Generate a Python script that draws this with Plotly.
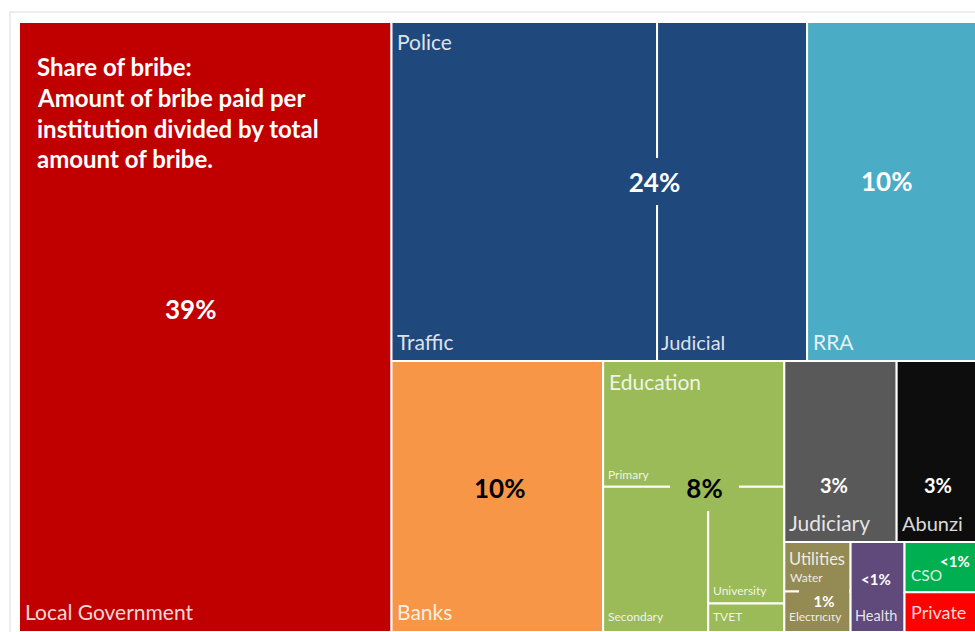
import plotly.graph_objects as go

# ---------------------------------------------------------------------------
# Share of bribe (% of the total amount of bribe paid), by institution
# ---------------------------------------------------------------------------
single_names = ["Local Government", "RRA", "Banks", "Judiciary", "Abunzi",
                "Health", "CSO", "Private"]
single_share = [38.87, 9.91, 9.81, 3.48, 2.52, 0.83, 0.63, 0.50]

police_units = ["Traffic", "Judicial"]
police_share = [15.4, 8.7]

education_units = ["Primary", "Secondary", "University", "TVET"]
education_share = [3.90, 2.61, 1.52, 0.37]

utility_units = ["Water", "Electricity"]
utility_share = [0.56, 0.46]

note_lines = ["Share of bribe:", "Amount of bribe paid per",
              "institution divided by total", "amount of bribe."]

groups = {
    "Police": (police_units, police_share),
    "Education": (education_units, education_share),
    "Utilities": (utility_units, utility_share),
}

palette = {
    "Local Government": "#C00000", "Police": "#1F497D", "RRA": "#4BACC6",
    "Banks": "#F79646", "Education": "#9BBB59", "Judiciary": "#595959",
    "Abunzi": "#0D0D0D", "Utilities": "#948A54", "Health": "#604A7B",
    "CSO": "#00B050", "Private": "#FF0000",
}

FONT = "Lato"
NAME_COLOR = "rgba(255,255,255,0.86)"

# tree-map canvas, in pixel-sized axis units
MAP_W, MAP_H = 959, 610
VIEW_W = 956
SQUARIFY_RATIO = 1.15


def squarify(items, x0, y0, x1, y1, ratio=SQUARIFY_RATIO):
    """Squarified tiling (same row rule as d3.treemapSquarify)."""
    out = {}
    value = sum(v for _, v in items)
    i0, n = 0, len(items)
    while i0 < n:
        dx, dy = x1 - x0, y1 - y0
        i1 = i0
        s = items[i1][1]
        i1 += 1
        mn = mx = s
        alpha = max(dy / dx, dx / dy) / (value * ratio)
        beta = s * s * alpha
        best = max(mx / beta, beta / mn)
        while i1 < n:
            nv = items[i1][1]
            s += nv
            mn, mx = min(mn, nv), max(mx, nv)
            beta = s * s * alpha
            worst = max(mx / beta, beta / mn)
            if worst > best:
                s -= nv
                break
            best = worst
            i1 += 1
        row = items[i0:i1]
        if dx < dy:
            ny = y1 if i1 >= n else y0 + dy * s / value
            cx = x0
            for k, v in row:
                w = dx * v / s
                out[k] = (cx, y0, cx + w, ny)
                cx += w
            y0 = ny
        else:
            nx = x1 if i1 >= n else x0 + dx * s / value
            cy = y0
            for k, v in row:
                h = dy * v / s
                out[k] = (x0, cy, nx, cy + h)
                cy += h
            x0 = nx
        value -= s
        i0 = i1
    return out


top = list(zip(single_names, single_share))
top += [(g, sum(vals)) for g, (_, vals) in groups.items()]
top.sort(key=lambda t: -t[1])
share_of = dict(top)
boxes = squarify(top, 0, 0, MAP_W, MAP_H)

leaves = []  # (label, institution, value, box)
for name, val in top:
    if name in groups:
        units, vals = groups[name]
        kids = sorted(zip(units, vals), key=lambda t: -t[1])
        sub = squarify(kids, *boxes[name])
        for u, v in kids:
            leaves.append((u, name, v, sub[u]))
    else:
        leaves.append((name, name, val, boxes[name]))

fig = go.Figure()
for label, inst, val, (x0, y0, x1, y1) in leaves:
    hover = f"{inst}" if label == inst else f"{inst} – {label}"
    fig.add_trace(go.Scatter(
        x=[x0, x1, x1, x0, x0], y=[y0, y0, y1, y1, y0],
        mode="lines", fill="toself", fillcolor=palette[inst],
        line=dict(color="white", width=2),
        hoveron="fills", hoverinfo="text",
        text=f"{hover}: {val:.2f}%", name=label,
    ))


def pct_text(v):
    return f"{int(v + 0.5)}%" if v >= 1 else "<1%"


# name labels in the bottom-left corner: size, left pad, baseline gap
name_style = {
    "Local Government": (21, 7, 12), "Traffic": (21, 6, 11),
    "Judicial": (20, 5, 11), "RRA": (21, 7, 11), "Banks": (21, 6, 12),
    "Judiciary": (21, 6, 11.5), "Abunzi": (20, 6, 11.5),
    "Health": (14.5, 5, 11), "CSO": (15.5, 7, 11.7), "Private": (18, 7, 12.7),
    "Primary": (12, 6, 7.4), "Secondary": (12, 6, 10.3),
    "University": (12, 6, 8.3), "TVET": (12, 6, 10.3),
    "Water": (12, 6.5, 9.3), "Electricity": (12, 6, 10.3),
}
# group headers in the top-left corner: size, left pad, cap-top gap
header_style = {"Police": (21, 6, 13), "Education": (21, 7, 13.7),
                "Utilities": (16.5, 6, 11.5)}
# share labels: size, colour, nudge x / y (px), backing box (w, h) or None
pct_style = {
    "Local Government": (26, "white", -15, -18.5, None),
    "Police": (26, "white", 55, -10, (69, 47)),
    "RRA": (26, "white", -6, -10, None),
    "Banks": (26, "black", 2, -8, None),
    "Education": (26, "black", 11, -9, (69, 47)),
    "Judiciary": (20, "white", -6, 33, None),
    "Abunzi": (20, "white", 1, 33, None),
    "Utilities": (15, "white", 7, 14, (50, 28)),
    "Health": (15, "white", -2, -8, None),
    "CSO": (15, "white", 14, -6, None),
}

for label, inst, val, (x0, y0, x1, y1) in leaves:
    size, padx, gap = name_style[label]
    fig.add_annotation(
        x=x0, y=y1, xref="x", yref="y", text=label, showarrow=False,
        xanchor="left", yanchor="bottom",
        xshift=padx - 3, yshift=gap - 0.213 * size - 2,
        font=dict(family=FONT, size=size, color=NAME_COLOR))

for g, (size, padx, gap) in header_style.items():
    x0, y0, x1, y1 = boxes[g]
    fig.add_annotation(
        x=x0, y=y0, xref="x", yref="y", text=g, showarrow=False,
        xanchor="left", yanchor="top",
        xshift=padx - 3, yshift=-(gap - 2 - 0.27 * size),
        font=dict(family=FONT, size=size, color=NAME_COLOR))

for inst, (size, color, nx, ny, box) in pct_style.items():
    x0, y0, x1, y1 = boxes[inst]
    extra = {}
    if box:
        extra = dict(width=box[0], height=box[1], borderpad=0,
                     borderwidth=0, bgcolor=palette[inst])
    fig.add_annotation(
        x=(x0 + x1) / 2, y=(y0 + y1) / 2, xref="x", yref="y",
        text=f"<b>{pct_text(share_of[inst])}</b>", showarrow=False,
        xanchor="center", yanchor="middle", xshift=nx, yshift=-ny,
        font=dict(family=FONT, size=size, color=color), **extra)

# explanatory note inside the Local Government tile
lg = boxes["Local Government"]
NOTE_SIZE = 24
for i, line in enumerate(note_lines):
    baseline = 54 + i * 30.7
    fig.add_annotation(
        x=lg[0], y=lg[1], xref="x", yref="y", text=f"<b>{line}</b>",
        showarrow=False, xanchor="left", yanchor="top",
        xshift=19 - 3, yshift=-(baseline - 0.987 * NOTE_SIZE - 2),
        font=dict(family=FONT, size=NOTE_SIZE, color="white"))

# light chart frame
fig.add_shape(type="rect", xref="paper", yref="paper",
              x0=-9 / VIEW_W, x1=1.2, y0=-0.2, y1=1 + 10 / MAP_H,
              line=dict(color="#D9D9D9", width=1), fillcolor="rgba(0,0,0,0)",
              layer="below")

fig.update_layout(
    width=975, height=632,
    margin=dict(l=19, r=0, t=22, b=0),
    paper_bgcolor="white", plot_bgcolor="white",
    showlegend=False,
    xaxis=dict(range=[0, VIEW_W], visible=False, fixedrange=True),
    yaxis=dict(range=[MAP_H, 0], visible=False, fixedrange=True),
)

fig.write_html("out.html")
